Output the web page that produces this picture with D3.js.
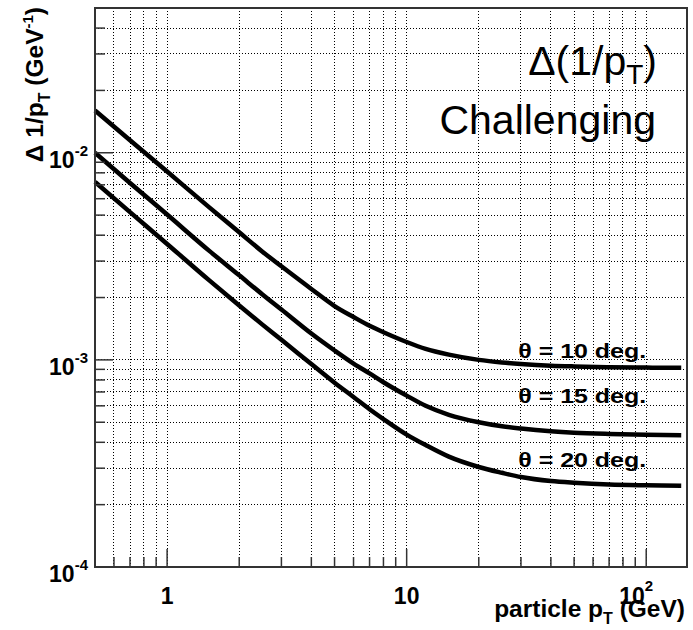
<!DOCTYPE html>
<meta charset="utf-8">
<html>
<head>
    <style>
        body { margin: 0; background: #fff; }
        text { font-family: "Liberation Sans", Arial, Helvetica, sans-serif; fill: #000; }
        text.bold { font-weight: bold; }
        line.grid { stroke: #000; stroke-width: 1; stroke-dasharray: 1,2; shape-rendering: crispEdges; }
        line.tick { stroke: #333; stroke-width: 1.5; }
        path.curve { fill: none; stroke: #000; stroke-width: 4.5; stroke-linejoin: round; }
    </style>
    <title>Delta 1/pT</title>
    <script src="https://cdn.jsdelivr.net/npm/d3@7"></script>
</head>
<body>
<div id="chart"></div>
<script>
    // particle pT (GeV) sample points
    const ptValues = [0.5, 0.7, 1, 1.5, 2, 2.5, 3, 4, 5, 6, 7, 8, 10, 12, 15, 20, 25, 30, 40, 50, 70, 100, 140];
    // Delta 1/pT (GeV^-1)
    const res10 = [0.0160, 0.0115, 0.00812, 0.00545, 0.00413, 0.00333, 0.00283, 0.00220, 0.00182, 0.00161,
        0.00146, 0.00136, 0.00122, 0.00113, 0.00106, 0.00100, 0.000972, 0.000956, 0.000938, 0.000930,
        0.000922, 0.000918, 0.000915];
    const res15 = [0.0100, 0.00715, 0.00503, 0.00336, 0.00256, 0.00207, 0.00175, 0.00134, 0.00111, 0.000960,
        0.000860, 0.000780, 0.000672, 0.000600, 0.000543, 0.000500, 0.000478, 0.000466, 0.000452, 0.000445,
        0.000439, 0.000435, 0.000433];
    const res20 = [0.00723, 0.00517, 0.00363, 0.00242, 0.00183, 0.00148, 0.00125, 0.000955, 0.000776, 0.000662,
        0.000578, 0.000518, 0.000436, 0.000388, 0.000341, 0.000304, 0.000285, 0.000272, 0.000260, 0.000255,
        0.000250, 0.000248, 0.000247];
    const curveLabels = ["\u03b8 = 10 deg.", "\u03b8 = 15 deg.", "\u03b8 = 20 deg."];
    const labelY = [1.02e-3, 6.18e-4, 3.05e-4];

    const xTicksMajor = [1, 10, 100];
    const xTicksMinor = [0.6, 0.7, 0.8, 0.9, 2, 3, 4, 5, 6, 7, 8, 9, 20, 30, 40, 50, 60, 70, 80, 90];
    const yTicksMajor = [1e-4, 1e-3, 1e-2];
    const yTicksMinor = [2e-4, 3e-4, 4e-4, 5e-4, 6e-4, 7e-4, 8e-4, 9e-4,
        2e-3, 3e-3, 4e-3, 5e-3, 6e-3, 7e-3, 8e-3, 9e-3, 2e-2, 3e-2, 4e-2];
    const xTickLabels = [["1", ""], ["10", ""], ["10", "2"]];
    const yTickLabels = [["10", "-4"], ["10", "-3"], ["10", "-2"]];

    const width = 693, height = 630;
    const plot = {left: 95, right: 687, top: 8, bottom: 567};

    const x = d3.scaleLog().domain([0.5, 148]).range([plot.left, plot.right]);
    const y = d3.scaleLog().domain([1e-4, 5e-2]).range([plot.bottom, plot.top]);

    const svg = d3.select("#chart").append("svg")
        .attr("width", width)
        .attr("height", height);

    // dotted grid
    const gx = xTicksMajor.concat(xTicksMinor);
    const gy = yTicksMajor.concat(yTicksMinor);
    svg.append("g").selectAll("line")
        .data(gx).enter().append("line")
        .attr("class", "grid")
        .attr("x1", d => x(d)).attr("x2", d => x(d))
        .attr("y1", plot.top).attr("y2", plot.bottom);
    svg.append("g").selectAll("line")
        .data(gy.filter(d => d > 1e-4)).enter().append("line")
        .attr("class", "grid")
        .attr("x1", plot.left).attr("x2", plot.right)
        .attr("y1", d => y(d)).attr("y2", d => y(d));

    // curves
    const line = d3.line()
        .x(d => x(d[0]))
        .y(d => y(d[1]))
        .curve(d3.curveMonotoneX);
    [res10, res15, res20].forEach(function (series) {
        svg.append("path")
            .attr("class", "curve")
            .attr("d", line(ptValues.map((p, i) => [p, series[i]])));
    });

    // frame
    svg.append("rect")
        .attr("x", plot.left).attr("y", plot.top)
        .attr("width", plot.right - plot.left)
        .attr("height", plot.bottom - plot.top)
        .attr("fill", "none")
        .attr("stroke", "#333")
        .attr("stroke-width", 2);

    // inner ticks
    svg.append("g").selectAll("line")
        .data(gx).enter().append("line")
        .attr("class", "tick")
        .attr("x1", d => x(d)).attr("x2", d => x(d))
        .attr("y1", plot.bottom)
        .attr("y2", d => plot.bottom - (xTicksMajor.includes(d) ? 18 : 10));
    svg.append("g").selectAll("line")
        .data(gy).enter().append("line")
        .attr("class", "tick")
        .attr("y1", d => y(d)).attr("y2", d => y(d))
        .attr("x1", plot.left)
        .attr("x2", d => plot.left + (yTicksMajor.includes(d) ? 18 : 10));

    // x tick labels
    xTicksMajor.forEach(function (v, i) {
        const t = svg.append("text")
            .attr("class", "bold")
            .attr("x", x(v) - (xTickLabels[i][1] ? 10 : 0))
            .attr("y", 604)
            .attr("text-anchor", "middle")
            .style("font-size", "23px");
        t.append("tspan").text(xTickLabels[i][0]);
        if (xTickLabels[i][1]) {
            t.append("tspan").attr("dy", -13).style("font-size", "15px").text(xTickLabels[i][1]);
        }
    });

    // y tick labels
    yTicksMajor.forEach(function (v, i) {
        const t = svg.append("text")
            .attr("class", "bold")
            .attr("x", 88)
            .attr("y", y(v) + 15)
            .attr("text-anchor", "end")
            .style("font-size", "23px");
        t.append("tspan").text(yTickLabels[i][0]);
        t.append("tspan").attr("dy", -12).style("font-size", "15px").text(yTickLabels[i][1]);
    });

    // axis titles
    const xt = svg.append("text")
        .attr("class", "bold")
        .attr("x", 685).attr("y", 617)
        .attr("text-anchor", "end")
        .style("font-size", "24.5px");
    xt.append("tspan").text("particle p");
    xt.append("tspan").attr("dy", 7).style("font-size", "16px").text("T");
    xt.append("tspan").attr("dy", -7).text(" (GeV)");

    const yt = svg.append("text")
        .attr("class", "bold")
        .attr("transform", "translate(43,7) rotate(-90)")
        .attr("text-anchor", "end")
        .style("font-size", "24.5px");
    yt.append("tspan").text("\u0394 1/p");
    yt.append("tspan").attr("dy", 7).style("font-size", "16px").text("T");
    yt.append("tspan").attr("dy", -7).text(" (GeV");
    yt.append("tspan").attr("dy", -10).style("font-size", "15px").text("-1");
    yt.append("tspan").attr("dy", 10).text(")");

    // curve labels
    curveLabels.forEach(function (s, i) {
        svg.append("text")
            .attr("class", "bold")
            .attr("x", x(100))
            .attr("y", y(labelY[i]))
            .attr("text-anchor", "end")
            .attr("textLength", 128)
            .attr("lengthAdjust", "spacingAndGlyphs")
            .style("font-size", "21px")
            .text(s);
    });

    // header text
    const h1 = svg.append("text")
        .attr("x", 657).attr("y", 75)
        .attr("text-anchor", "end")
        .style("font-size", "41px");
    h1.append("tspan").text("\u0394(1/p");
    h1.append("tspan").attr("dy", 9).style("font-size", "28px").text("T");
    h1.append("tspan").attr("dy", -9).text(")");

    svg.append("text")
        .attr("x", 656).attr("y", 134)
        .attr("text-anchor", "end")
        .style("font-size", "41px")
        .text("Challenging");
</script>
</body>
</html>
